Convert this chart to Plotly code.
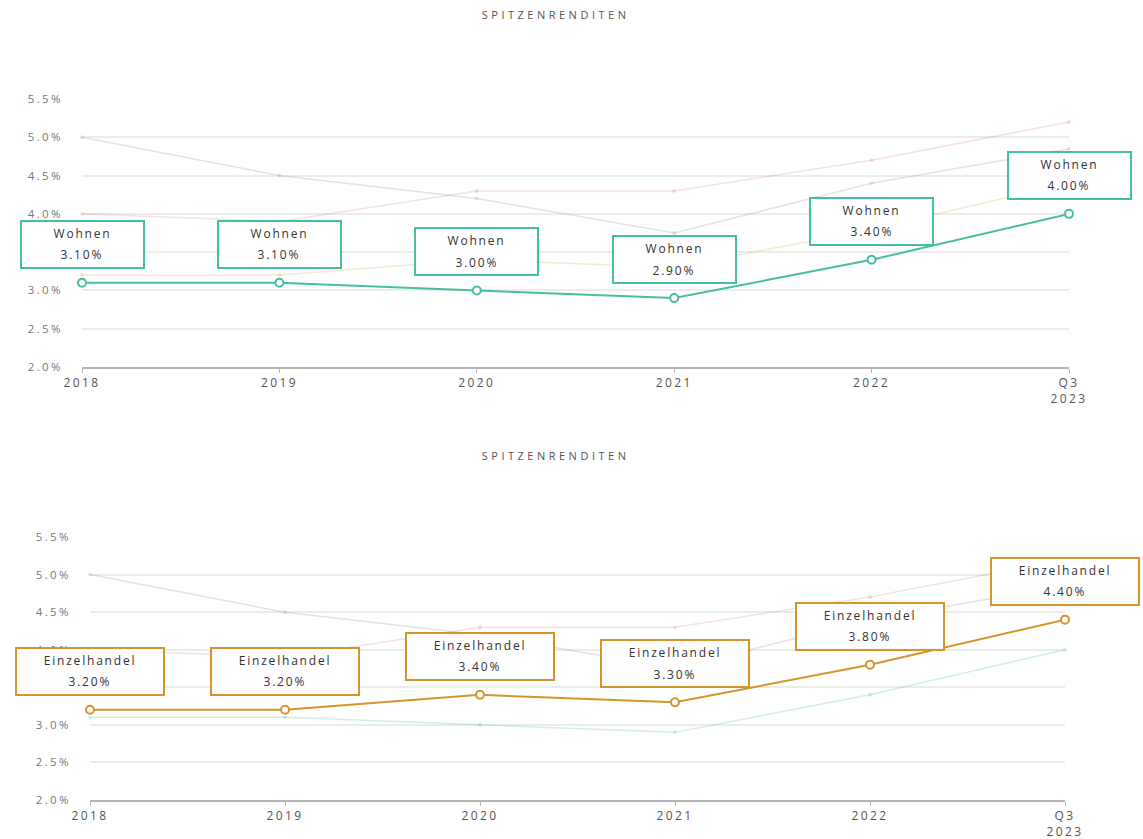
import plotly.graph_objects as go

# Peak yields (Spitzenrenditen) per year, in percent
periods = ["2018", "2019", "2020", "2021", "2022", "Q3 2023"]
tick_labels = ["2018", "2019", "2020", "2021", "2022", "Q3<br>2023"]

logistik = [5.0, 4.5, 4.2, 3.75, 4.4, 4.85]
hotel = [4.0, 3.9, 4.3, 4.3, 4.7, 5.2]
einzelhandel = [3.2, 3.2, 3.4, 3.3, 3.8, 4.4]
wohnen = [3.1, 3.1, 3.0, 2.9, 3.4, 4.0]

y_ticks = [2.0, 2.5, 3.0, 3.5, 4.0, 4.5, 5.0, 5.5]
y_tick_labels = ["2.0%", "2.5%", "3.0%", "3.5%", "4.0%", "4.5%", "5.0%", "5.5%"]

TEAL = "#45bfa4"
ORANGE = "#d6952c"
FADED = {
    "Logistik": "rgba(170,160,160,0.30)",
    "Hotel": "rgba(215,120,120,0.22)",
    "Einzelhandel": "rgba(214,149,44,0.22)",
    "Wohnen": "rgba(69,191,164,0.25)",
}
FONT = "Open Sans, Lato, sans-serif"
W, H = 1143, 839

fig = go.Figure()

panels = [
    # (axis suffix, highlighted name, values, colour, box width, x domain px, y domain px)
    ("", "Wohnen", wohnen, TEAL, 125, (82, 1069), (99, 367)),
    ("2", "Einzelhandel", einzelhandel, ORANGE, 150, (90, 1065), (537, 800)),
]
all_series = {"Logistik": logistik, "Hotel": hotel,
              "Einzelhandel": einzelhandel, "Wohnen": wohnen}

annotations = []
for suffix, name, values, color, box_w, (x0, x1), (ytop, ybot) in panels:
    xa, ya = "x" + suffix, "y" + suffix
    # background series, muted
    for sname, svals in all_series.items():
        if sname == name:
            continue
        fig.add_trace(go.Scatter(
            x=periods, y=svals, xaxis=xa, yaxis=ya, name=sname,
            mode="lines+markers", cliponaxis=False,
            line=dict(color=FADED[sname], width=1.5),
            marker=dict(color=FADED[sname], size=4),
            hoverinfo="skip", showlegend=False))
    # highlighted series
    fig.add_trace(go.Scatter(
        x=periods, y=values, xaxis=xa, yaxis=ya, name=name,
        mode="lines+markers", cliponaxis=False,
        line=dict(color=color, width=2),
        marker=dict(color="white", size=8, line=dict(color=color, width=2)),
        showlegend=False))
    # labelled boxes above each point (category index as x position)
    for i, v in enumerate(values):
        annotations.append(dict(
            x=i, y=v, xref=xa, yref=ya, text=name, showarrow=False,
            xanchor="center", yanchor="bottom", yshift=14,
            width=box_w - 10, height=39, valign="top", align="center",
            bgcolor="white", bordercolor=color, borderwidth=2, borderpad=3,
            font=dict(family=FONT, size=12, color="#333")))
        annotations.append(dict(
            x=i, y=v, xref=xa, yref=ya, text=f"{v:.2f}%", showarrow=False,
            xanchor="center", yanchor="middle", yshift=28,
            font=dict(family=FONT, size=12, color="#333")))

    # axes
    xd = [x0 / W, x1 / W]
    yd = [1 - ybot / H, 1 - ytop / H]
    fig.update_layout(**{
        "xaxis" + suffix: dict(
            domain=xd, anchor=ya, type="category", range=[0, 5],
            tickvals=periods, ticktext=tick_labels,
            showgrid=False, showline=True, linecolor="#b5b5b5", linewidth=1.5,
            ticks="outside", ticklen=4, tickcolor="#b5b5b5",
            tickfont=dict(family=FONT, size=12, color="#555")),
        "yaxis" + suffix: dict(
            domain=yd, anchor=xa, range=[2.0, 5.5],
            tickvals=y_ticks, ticktext=y_tick_labels,
            showgrid=True, gridcolor="#ececec", gridwidth=1.5,
            zeroline=False, showline=False, ticks="", ticklabelstandoff=18,
            tickfont=dict(family=FONT, size=11.5, color="#777")),
    })

for ty in (15, 455):
    annotations.append(dict(
        x=555 / W, y=1 - ty / H, xref="paper", yref="paper", text="SPITZENRENDITEN",
        showarrow=False, xanchor="center", yanchor="middle",
        font=dict(family=FONT, size=11, color="#555")))

fig.update_layout(
    width=W, height=H, margin=dict(l=0, r=0, t=0, b=0, autoexpand=False),
    paper_bgcolor="white", plot_bgcolor="white",
    annotations=annotations, showlegend=False)

# wider letter spacing for the chart texts (stylesheet survives redraws)
spacing_js = """
var st = document.createElement('style');
st.textContent = '.annotation-text{letter-spacing:1.8px;}' +
                 '.xtick text,.ytick text,.x2tick text,.y2tick text{letter-spacing:2.4px;}';
document.head.appendChild(st);
document.querySelectorAll('.annotation-text').forEach(function(e){
  if (e.textContent === 'SPITZENRENDITEN') { e.style.letterSpacing = '3.5px'; }
});
"""
fig.write_html("out.html", post_script=spacing_js)
